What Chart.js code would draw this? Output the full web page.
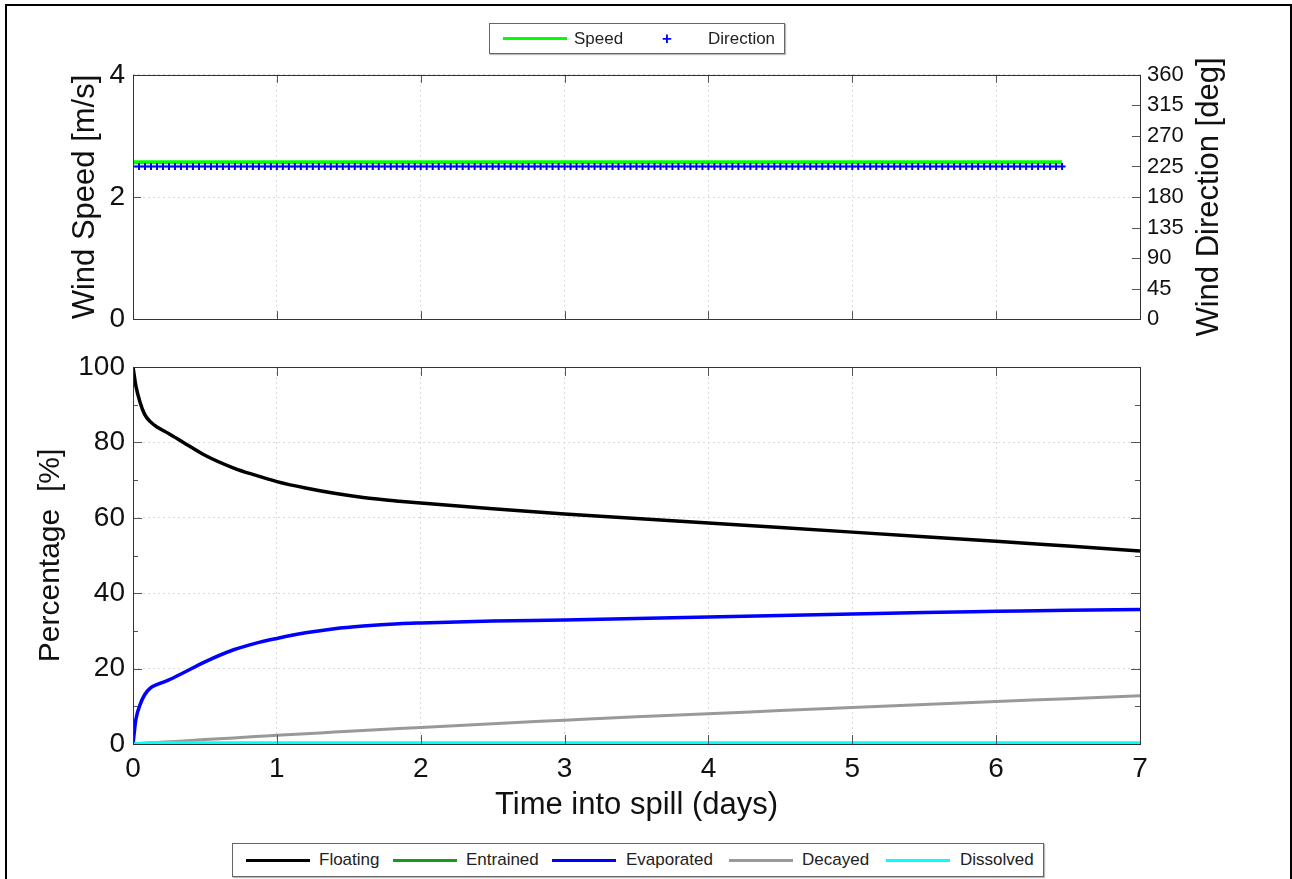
<!DOCTYPE html>
<html>
<head>
<meta charset="utf-8">
<title>Oil spill weathering</title>
<script src="https://cdn.jsdelivr.net/npm/chart.js@4.4.1/dist/chart.umd.min.js"></script>
<style>
  body { margin: 0; background: #fff; font-family: 'Liberation Sans', Arial, sans-serif; }
  #page { position: relative; width: 1292px; height: 879px; overflow: hidden; background: #fff; }
  #frame { position: absolute; left: 5px; top: 4px; width: 1283px; height: 900px; border: 2px solid #000; }
  canvas { position: absolute; left: 0; }
  .legend { position: absolute; box-sizing: border-box; border: 1px solid #666; background: #fff;
            box-shadow: 1px 1px 1px #bbb; font-size: 17px; color: #222; }
  .legend span { position: absolute; top: 50%; transform: translateY(-52%); white-space: nowrap; }
  .legend i { position: absolute; top: 50%; height: 3px; margin-top: -1.5px; width: 64px; }
</style>
</head>
<body>
<div id="page">
  <div id="frame"></div>
  <canvas id="wind" width="1292" height="294" style="top:50px"></canvas>
  <canvas id="budget" width="1292" height="484" style="top:340px"></canvas>

  <div class="legend" style="left:489px; top:23px; width:296px; height:31px;">
    <i style="left:13px; background:#00ff00"></i><span style="left:84px">Speed</span>
    <span style="left:172px; color:#0000ff; font-weight:bold">+</span><span style="left:218px">Direction</span>
  </div>
  <div class="legend" style="left:232px; top:843px; width:812px; height:34px;">
    <i style="left:13px; background:#000"></i><span style="left:86px">Floating</span>
    <i style="left:160px; background:#1a9a1a"></i><span style="left:233px">Entrained</span>
    <i style="left:319px; background:#0000ff"></i><span style="left:393px">Evaporated</span>
    <i style="left:496px; background:#999"></i><span style="left:569px">Decayed</span>
    <i style="left:653px; background:#00ffff"></i><span style="left:727px">Dissolved</span>
  </div>
</div>
<script>
// wind record, hourly
var windHours = [
  0,1,2,3,4,5,6,7,8,9,10,11,12,13,14,15,16,17,18,19,20,21,22,23,
  24,25,26,27,28,29,30,31,32,33,34,35,36,37,38,39,40,41,42,43,44,45,46,47,
  48,49,50,51,52,53,54,55,56,57,58,59,60,61,62,63,64,65,66,67,68,69,70,71,
  72,73,74,75,76,77,78,79,80,81,82,83,84,85,86,87,88,89,90,91,92,93,94,95,
  96,97,98,99,100,101,102,103,104,105,106,107,108,109,110,111,112,113,114,115,116,117,118,119,
  120,121,122,123,124,125,126,127,128,129,130,131,132,133,134,135,136,137,138,139,140,141,142,143,
  144,145,146,147,148,149,150,151,152,153,154,155];
var windSpeed = [
  2.57,2.57,2.57,2.57,2.57,2.57,2.57,2.57,2.57,2.57,2.57,2.57,2.57,2.57,2.57,2.57,2.57,2.57,2.57,2.57,2.57,2.57,2.57,2.57,
  2.57,2.57,2.57,2.57,2.57,2.57,2.57,2.57,2.57,2.57,2.57,2.57,2.57,2.57,2.57,2.57,2.57,2.57,2.57,2.57,2.57,2.57,2.57,2.57,
  2.57,2.57,2.57,2.57,2.57,2.57,2.57,2.57,2.57,2.57,2.57,2.57,2.57,2.57,2.57,2.57,2.57,2.57,2.57,2.57,2.57,2.57,2.57,2.57,
  2.57,2.57,2.57,2.57,2.57,2.57,2.57,2.57,2.57,2.57,2.57,2.57,2.57,2.57,2.57,2.57,2.57,2.57,2.57,2.57,2.57,2.57,2.57,2.57,
  2.57,2.57,2.57,2.57,2.57,2.57,2.57,2.57,2.57,2.57,2.57,2.57,2.57,2.57,2.57,2.57,2.57,2.57,2.57,2.57,2.57,2.57,2.57,2.57,
  2.57,2.57,2.57,2.57,2.57,2.57,2.57,2.57,2.57,2.57,2.57,2.57,2.57,2.57,2.57,2.57,2.57,2.57,2.57,2.57,2.57,2.57,2.57,2.57,
  2.57,2.57,2.57,2.57,2.57,2.57,2.57,2.57,2.57,2.57,2.57,2.57];
var windDir = [
  225,225,225,225,225,225,225,225,225,225,225,225,225,225,225,225,225,225,225,225,225,225,225,225,
  225,225,225,225,225,225,225,225,225,225,225,225,225,225,225,225,225,225,225,225,225,225,225,225,
  225,225,225,225,225,225,225,225,225,225,225,225,225,225,225,225,225,225,225,225,225,225,225,225,
  225,225,225,225,225,225,225,225,225,225,225,225,225,225,225,225,225,225,225,225,225,225,225,225,
  225,225,225,225,225,225,225,225,225,225,225,225,225,225,225,225,225,225,225,225,225,225,225,225,
  225,225,225,225,225,225,225,225,225,225,225,225,225,225,225,225,225,225,225,225,225,225,225,225,
  225,225,225,225,225,225,225,225,225,225,225,225];

// mass balance (% of spilled volume)
var spillDays  = [0, 0.02, 0.05, 0.08, 0.12, 0.17, 0.25, 0.35, 0.5, 0.7, 0.85, 1.0, 1.2, 1.4, 1.6, 1.85, 2.0, 2.5, 3.0, 3.5, 4.0, 4.5, 5.0, 5.5, 6.0, 6.5, 7.0];
var floating   = [100, 95.0, 90.5, 87.5, 85.5, 84.0, 82.3, 80.0, 76.6, 73.2, 71.3, 69.6, 67.9, 66.5, 65.4, 64.4, 63.9, 62.4, 61.0, 59.8, 58.6, 57.4, 56.2, 55.0, 53.8, 52.5, 51.2];
var entrained  = [0, 0, 0, 0, 0, 0, 0, 0, 0, 0, 0, 0, 0, 0, 0, 0, 0, 0, 0, 0, 0, 0, 0, 0, 0, 0, 0];
var evaporated = [0, 6.5, 10.5, 13.0, 14.8, 15.8, 17.0, 18.9, 21.8, 25.0, 26.7, 28.0, 29.5, 30.6, 31.3, 31.9, 32.1, 32.6, 32.9, 33.3, 33.7, 34.1, 34.5, 34.9, 35.2, 35.5, 35.7];
var decayed    = [0, 0.05, 0.1, 0.2, 0.3, 0.4, 0.6, 0.8, 1.2, 1.6, 2.0, 2.3, 2.7, 3.2, 3.6, 4.1, 4.4, 5.4, 6.3, 7.2, 8.0, 8.9, 9.7, 10.5, 11.3, 12.0, 12.8];
var dissolved  = [0, 0.1, 0.2, 0.25, 0.3, 0.3, 0.3, 0.3, 0.3, 0.3, 0.3, 0.3, 0.3, 0.3, 0.3, 0.3, 0.3, 0.3, 0.3, 0.3, 0.3, 0.3, 0.3, 0.3, 0.3, 0.3, 0.3];

// tick labels
var dayTicks   = [0, 1, 2, 3, 4, 5, 6, 7];
var speedTicks = [0, 2, 4];
var dirTicks   = [0, 45, 90, 135, 180, 225, 270, 315, 360];
var pctTicks   = [0, 20, 40, 60, 80, 100];
var pctMinor   = [10, 30, 50, 70, 90];

var FONT = "'Liberation Sans', Arial, sans-serif";
Chart.defaults.font.family = FONT;
Chart.defaults.color = '#111';

function pts(xs, ys, scale) {
  return xs.map(function (x, i) { return {x: x / (scale || 1), y: ys[i]}; });
}
function useTicks(list) {
  return function (s) { s.ticks = list.map(function (v) { return {value: v}; }); };
}

// MATLAB style box with inward ticks, plus optional rotated right-hand title
var boxTicks = {
  id: 'boxTicks',
  afterDatasetsDraw: function (chart, args, opts) {
    var ctx = chart.ctx, a = chart.chartArea, scales = chart.scales;
    ctx.save();
    ctx.lineWidth = 1;
    ctx.strokeStyle = '#555';
    (opts.marks || []).forEach(function (m) {
      var s = scales[m.axis];
      m.values.forEach(function (v) {
        var p = Math.round(s.getPixelForValue(v)) + 0.5;
        ctx.beginPath();
        if (s.isHorizontal()) {
          ctx.moveTo(p, a.bottom); ctx.lineTo(p, a.bottom - m.len);
          ctx.moveTo(p, a.top); ctx.lineTo(p, a.top + m.len);
        } else {
          if (m.side !== 'right') { ctx.moveTo(a.left, p); ctx.lineTo(a.left + m.len, p); }
          if (m.side !== 'left') { ctx.moveTo(a.right, p); ctx.lineTo(a.right - m.len, p); }
        }
        ctx.stroke();
      });
    });
    ctx.strokeStyle = '#333';
    ctx.strokeRect(Math.round(a.left) + 0.5, Math.round(a.top) + 0.5,
                   Math.round(a.right - a.left), Math.round(a.bottom - a.top));
    if (opts.rightTitle) {
      ctx.fillStyle = '#111';
      ctx.font = '31px ' + FONT;
      ctx.textAlign = 'center';
      ctx.textBaseline = 'middle';
      ctx.translate(opts.rightTitle.x, (a.top + a.bottom) / 2);
      ctx.rotate(-Math.PI / 2);
      ctx.fillText(opts.rightTitle.text, 0, 0);
    }
    ctx.restore();
  }
};

var gridLine = { color: '#dadada', drawTicks: false };
var dotted = { display: false, dash: [2, 3] };

new Chart(document.getElementById('wind'), {
  type: 'line',
  data: {
    datasets: [{
      label: 'Speed',
      data: pts(windHours, windSpeed, 24),
      yAxisID: 'y',
      borderColor: '#00ff00',
      borderWidth: 4,
      pointRadius: 0,
      order: 2
    }, {
      label: 'Direction',
      data: pts(windHours, windDir, 24),
      yAxisID: 'y2',
      showLine: false,
      pointStyle: 'cross',
      pointRadius: 3.5,
      borderColor: '#0000ff',
      borderWidth: 2,
      order: 1
    }]
  },
  options: {
    responsive: false,
    animation: false,
    layout: { padding: { top: 15, bottom: 20, left: 0, right: 0 } },
    plugins: {
      legend: { display: false },
      tooltip: { enabled: false },
      boxTicks: {
        marks: [
          { axis: 'x', values: dayTicks, len: 8 },
          { axis: 'y', values: speedTicks, len: 8, side: 'left' },
          { axis: 'y2', values: dirTicks, len: 8, side: 'right' }
        ],
        rightTitle: { text: 'Wind Direction [deg]', x: 1209 }
      }
    },
    scales: {
      x: {
        type: 'linear', min: 0, max: 7,
        afterBuildTicks: useTicks(dayTicks),
        ticks: { display: false },
        grid: gridLine, border: dotted,
        afterFit: function (s) { s.height = 0; }
      },
      y: {
        position: 'left', min: 0, max: 4,
        afterBuildTicks: useTicks(speedTicks),
        ticks: { padding: 8, font: { size: 28 }, color: '#111' },
        grid: gridLine, border: dotted,
        title: { display: true, text: 'Wind Speed [m/s]', color: '#111',
                 font: { size: 31, lineHeight: 1 }, padding: { top: 70, bottom: 0 } },
        afterFit: function (s) { s.width = 133; }
      },
      y2: {
        position: 'right', min: 0, max: 360,
        afterBuildTicks: useTicks(dirTicks),
        ticks: { padding: 7, font: { size: 22 }, color: '#111' },
        grid: { display: false, drawTicks: false }, border: { display: false },
        afterFit: function (s) { s.width = 152; }
      }
    }
  },
  plugins: [boxTicks]
});

new Chart(document.getElementById('budget'), {
  type: 'line',
  data: {
    datasets: [
      { label: 'Floating',   data: pts(spillDays, floating),   borderColor: '#000000', borderWidth: 3.5, order: 5 },
      { label: 'Entrained',  data: pts(spillDays, entrained),  borderColor: '#1a9a1a', borderWidth: 3,   order: 4 },
      { label: 'Evaporated', data: pts(spillDays, evaporated), borderColor: '#0000ff', borderWidth: 3.5, order: 3 },
      { label: 'Decayed',    data: pts(spillDays, decayed),    borderColor: '#999999', borderWidth: 3,   order: 2 },
      { label: 'Dissolved',  data: pts(spillDays, dissolved),  borderColor: '#00ffff', borderWidth: 3,   order: 1 }
    ]
  },
  options: {
    responsive: false,
    animation: false,
    elements: { point: { radius: 0 }, line: { cubicInterpolationMode: 'monotone' } },
    layout: { padding: { top: 27, bottom: 0, left: 0, right: 152 } },
    plugins: {
      legend: { display: false },
      tooltip: { enabled: false },
      boxTicks: {
        marks: [
          { axis: 'x', values: dayTicks, len: 9 },
          { axis: 'y', values: pctTicks, len: 9 },
          { axis: 'y', values: pctMinor, len: 5 }
        ]
      }
    },
    scales: {
      x: {
        type: 'linear', min: 0, max: 7,
        afterBuildTicks: useTicks(dayTicks),
        ticks: { padding: 8, font: { size: 28 }, color: '#111', maxRotation: 0 },
        grid: gridLine, border: dotted,
        title: { display: true, text: 'Time into spill (days)', color: '#111',
                 font: { size: 31, lineHeight: 1 }, padding: { top: 0, bottom: 3 } },
        afterFit: function (s) { s.height = 80; }
      },
      y: {
        min: 0, max: 100,
        afterBuildTicks: useTicks(pctTicks),
        ticks: { padding: 8, font: { size: 28 }, color: '#111' },
        grid: gridLine, border: dotted,
        title: { display: true, text: 'Percentage  [%]', color: '#111',
                 font: { size: 30, lineHeight: 1 }, padding: { top: 36, bottom: 0 } },
        afterFit: function (s) { s.width = 133; }
      }
    }
  },
  plugins: [boxTicks]
});
</script>
</body>
</html>
